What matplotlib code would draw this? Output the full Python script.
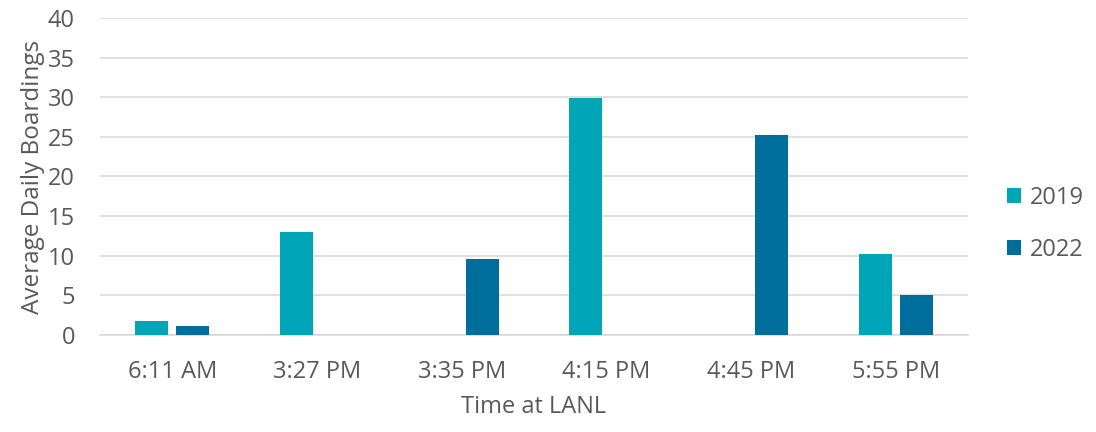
import matplotlib.pyplot as plt
import numpy as np

plt.rcParams['font.family'] = ['Open Sans', 'DejaVu Sans']

times = ['6:11 AM', '3:27 PM', '3:35 PM', '4:15 PM', '4:45 PM', '5:55 PM']
boardings_2019 = [1.8, 13.0, 0, 29.9, 0, 10.25]
boardings_2022 = [1.2, 0, 9.6, 0, 25.2, 5.1]

col_2019 = '#00A5B8'
col_2022 = '#006E9C'
txt = '#595959'

fig = plt.figure(figsize=(10.96, 4.32), dpi=100)
ax = fig.add_axes([0.0912, 0.2245, 0.792, 0.734])

x = np.arange(len(times))
w = 0.228
gap = 0.055
ax.bar(x - (w + gap) / 2, boardings_2019, w, color=col_2019, label='2019', zorder=3)
ax.bar(x + (w + gap) / 2, boardings_2022, w, color=col_2022, label='2022', zorder=3)

ax.set_xlim(-0.5, len(times) - 0.5)
ax.set_ylim(0, 40)
ax.set_yticks(np.arange(0, 41, 5))
ax.set_xticks(x)
ax.set_xticklabels(times)
ax.yaxis.grid(True, color='#D9D9D9', linewidth=1.2, zorder=0)
for s in ['top', 'right', 'left']:
    ax.spines[s].set_visible(False)
ax.spines['bottom'].set_color('#D9D9D9')
ax.spines['bottom'].set_linewidth(1.2)
ax.tick_params(axis='both', length=0, labelsize=17, colors=txt)
ax.tick_params(axis='y', pad=18)
ax.tick_params(axis='x', pad=18)

ax.set_xlabel('Time at LANL', fontsize=17, color=txt, labelpad=8)
ax.set_ylabel('Average Daily Boardings', fontsize=17.5, color=txt, labelpad=2)

leg = ax.legend(loc='center left', bbox_to_anchor=(1.02, 0.35), frameon=False,
                fontsize=17, handlelength=0.6, handleheight=0.6, labelspacing=1.2,
                handletextpad=0.4)
for t in leg.get_texts():
    t.set_color(txt)

fig.savefig('out.png', dpi=100)
